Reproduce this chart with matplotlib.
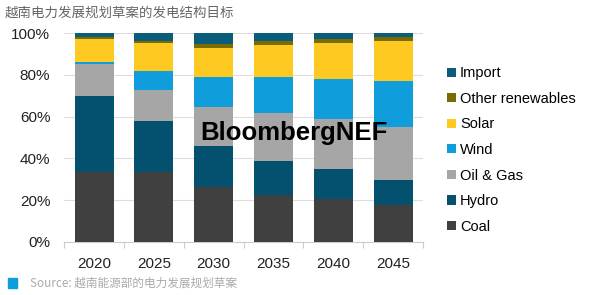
import matplotlib
matplotlib.use("Agg")
import matplotlib.pyplot as plt
import numpy as np
from matplotlib.patches import Rectangle

years = ["2020", "2025", "2030", "2035", "2040", "2045"]
coal = [33.6, 33.6, 26.4, 22.6, 20.6, 17.6]
hydro = [36.3, 24.2, 19.4, 16.1, 14.1, 12.2]
oil_gas = [15.2, 15.0, 19.0, 23.2, 24.0, 25.1]
wind = [1.0, 9.1, 14.1, 17.0, 19.2, 21.9]
solar = [11.0, 13.1, 14.1, 15.2, 17.1, 19.2]
other_ren = [0.8, 1.0, 1.9, 1.9, 2.1, 1.9]
imports = [2.1, 4.0, 5.1, 4.0, 2.9, 2.1]

series = [
    ("Coal", coal, "#404040"),
    ("Hydro", hydro, "#03506f"),
    ("Oil & Gas", oil_gas, "#a6a6a6"),
    ("Wind", wind, "#109ddb"),
    ("Solar", solar, "#fec920"),
    ("Other renewables", other_ren, "#7a6c00"),
    ("Import", imports, "#0b5d7c"),
]

plt.rcParams['font.family'] = ['Liberation Sans', 'Noto Sans CJK SC', 'DejaVu Sans']

fig = plt.figure(figsize=(6.0, 2.95), dpi=100)
ax = fig.add_axes([0.107, 0.180, 0.598, 0.708])

x = np.arange(len(years))
bottom = np.zeros(len(years))
handles = []
for name, vals, col in series:
    b = ax.bar(x, vals, 0.65, bottom=bottom, color=col, label=name, zorder=3)
    bottom += np.array(vals)
    handles.append(b)

ax.set_xlim(-0.5, 5.5)
ax.set_ylim(0, 100)
ax.set_yticks(np.arange(0, 101, 20))
ax.set_yticklabels([f"{v}%" for v in range(0, 101, 20)], fontsize=11, color="#222222")
ax.set_xticks(x)
ax.set_xticklabels(years, fontsize=11, color="#222222")
ax.set_xticks(np.arange(-0.5, 6.0, 1.0), minor=True)
ax.tick_params(axis='x', which='major', length=0, pad=11)
ax.tick_params(axis='x', which='minor', length=4, color="#cccccc", width=0.8)
ax.tick_params(axis='y', length=0, pad=10)
ax.grid(axis='y', color="#dddddd", linewidth=0.8, zorder=0)
for s in ["left", "right", "top"]:
    ax.spines[s].set_visible(False)
ax.spines["bottom"].set_color("#cccccc")
ax.spines["bottom"].set_linewidth(0.8)

leg = ax.legend(handles=handles[::-1], labels=[s[0] for s in series[::-1]],
                loc="center left", bbox_to_anchor=(1.03, 0.44), frameon=False,
                fontsize=10.5, handlelength=0.6, handleheight=0.6,
                handletextpad=0.3, labelspacing=0.79)

fig.text(0.49, 0.55, "BloombergNEF", fontsize=18.5, fontweight="bold",
         color="black", ha="center", va="center", zorder=10)

fig.text(0.008, 0.958, "越南电力发展规划草案的发电结构目标", fontsize=9.7,
         color="#666666", ha="left", va="center",
         family=['Noto Sans CJK SC', 'DejaVu Sans'])

fig.patches.append(Rectangle((0.013, 0.024), 0.016, 0.032, transform=fig.transFigure,
                             color="#109ddb", figure=fig))
fig.text(0.05, 0.040, "Source: 越南能源部的电力发展规划草案", fontsize=8.4,
         color="#aaaaaa", ha="left", va="center",
         family=['Noto Sans CJK SC', 'DejaVu Sans'])

fig.savefig("out.png", dpi=100)
